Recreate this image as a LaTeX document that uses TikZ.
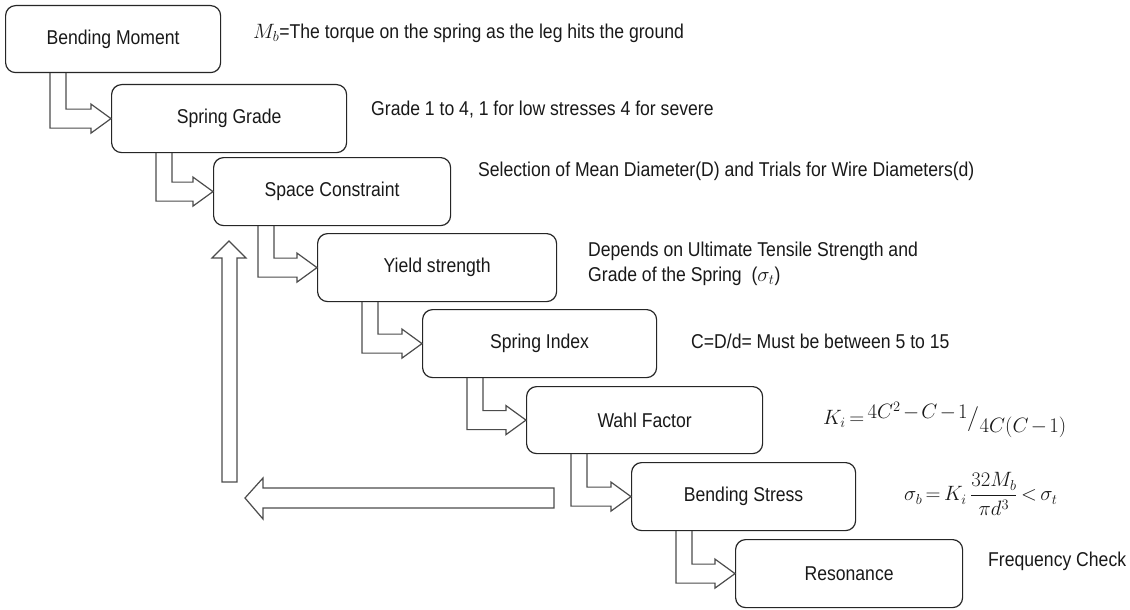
\documentclass[tikz,border=0pt]{standalone}
\usepackage{fontspec}
\setmainfont[FakeStretch=0.88]{Liberation Sans}
\usepackage{amsmath}
\usetikzlibrary{calc}
\tikzset{
  txt/.style={font=\fontsize{20pt}{25pt}\selectfont, text=black!90},
  box/.style={txt, draw=black!85, line width=1.2pt, rounded corners=10pt, anchor=north west, inner sep=0pt},
  conn/.style={draw=black!70, line width=1.2pt, line join=miter},
  note/.style={txt, anchor=west, inner sep=0pt, align=left}
}
\newcommand\blockconn[2]{%
  \path (#1.south west) coordinate (tmpA) (#2.west) coordinate (tmpB);
  \draw[conn] ($(tmpA)+(45,0)$) |- ($(tmpB)+(-20,9.5)$) -- ($(tmpB)+(-20,14.5)$) -- (tmpB)
     -- ($(tmpB)+(-20,-14.5)$) -- ($(tmpB)+(-20,-9.5)$) -| ($(tmpA)+(61,0)$);
}
\begin{document}
\begin{tikzpicture}[x=1pt,y=-1pt]
\useasboundingbox[fill=white] (0,0) rectangle (1130,610);

\node[box, minimum width=215, minimum height=67] (b1) at (5,5) {Bending Moment};
\node[box, minimum width=235, minimum height=68] (b2) at (111,84) {Spring Grade};
\node[box, minimum width=237, minimum height=68] (b3) at (213,157) {Space Constraint};
\node[box, minimum width=239, minimum height=68] (b4) at (317,233) {Yield strength};
\node[box, minimum width=234, minimum height=68] (b5) at (422,309) {Spring Index};
\node[box, minimum width=236, minimum height=67] (b6) at (526,386) {Wahl Factor};
\node[box, minimum width=224, minimum height=68] (b7) at (631,462) {Bending Stress};
\node[box, minimum width=227, minimum height=68] (b8) at (735,539) {Resonance};

\blockconn{b1}{b2}
\blockconn{b2}{b3}
\blockconn{b3}{b4}
\blockconn{b4}{b5}
\blockconn{b5}{b6}
\blockconn{b6}{b7}
\blockconn{b7}{b8}

% feedback arrows
\draw[conn] (554,488) -- (263,488) -- (263,478) -- (245,498) -- (263,519) -- (263,508) -- (554,508) -- cycle;
\draw[conn] (222,482) -- (222,258) -- (212,258) -- (229,241) -- (246,258) -- (237,258) -- (237,482) -- cycle;

% annotations
\node[note] (n1) at (253,33) {$M_b$=The torque on the spring as the leg hits the ground};
\node[note] (n2) at (371,110) {Grade 1 to 4, 1 for low stresses 4 for severe};
\node[note] (n3) at (478,171) {Selection of Mean Diameter(D) and Trials for Wire Diameters(d)};
\node[note] (n4) at (588,264) {Depends on Ultimate Tensile Strength and\\Grade of the Spring~~($\sigma_t$)};
\node[note] (n5) at (691,341) {C=D/d= Must be between 5 to 15};
\node[note] (n6) at (823,420) {\medmuskip=2mu\thickmuskip=3mu$K_i = \raisebox{0.55ex}{$4C^2 - C - 1$}\big/\raisebox{-0.75ex}{$4C(C-1)$}$};
\node[note] (n7) at (904,494) {\thickmuskip=3mu$\sigma_b = K_i\,\dfrac{32M_b}{\pi d^3} < \sigma_t$};
\node[note] (n8) at (988,561) {Frequency Check};
\end{tikzpicture}
\end{document}
